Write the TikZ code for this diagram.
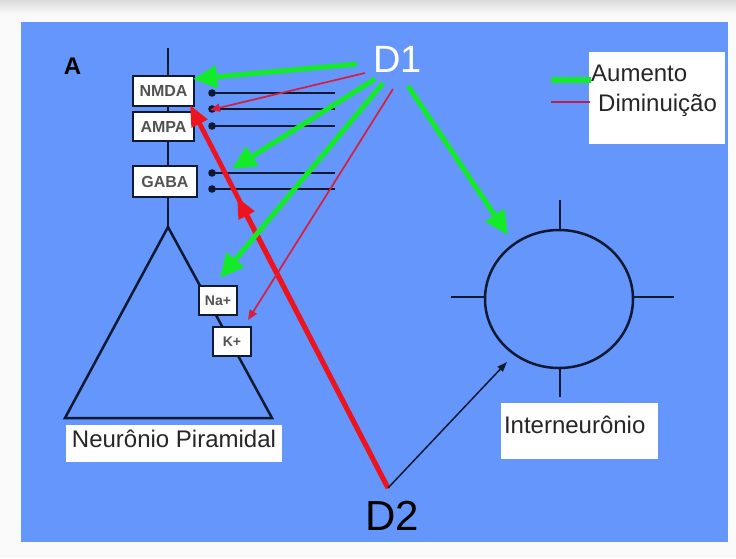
\documentclass[tikz,border=0pt]{standalone}
\usepackage{fontspec}
\setmainfont{Liberation Sans}
\usetikzlibrary{arrows.meta}
\definecolor{bgblue}{RGB}{100,150,252}
\definecolor{agreen}{RGB}{20,235,40}
\definecolor{ared}{RGB}{238,20,30}
\definecolor{thinred}{RGB}{215,30,60}
\definecolor{legred}{RGB}{190,30,75}
\definecolor{ink}{RGB}{15,25,50}
\definecolor{page}{RGB}{250,250,250}
\begin{document}
\begin{tikzpicture}[x=1pt,y=-1pt,
  chan/.style={draw=ink, line width=2.6pt, fill=white, inner sep=0pt,
    font=\fontsize{16}{16}\selectfont\bfseries, text=black!68},
  label/.style={fill=white, inner sep=0pt, font=\fontsize{24}{24}\selectfont, text=black!85},
  neur/.style={draw=ink, line width=2.5pt},
  syn/.style={draw=ink, line width=2.5pt},
  greenarrow/.style={draw=agreen, line width=5pt, -{Triangle[length=24pt,width=22pt]}},
  thinarrow/.style={draw=thinred, line width=1.7pt, -{Triangle[length=10pt,width=8pt]}},
  thickarrow/.style={draw=ared, line width=4.8pt, -{Triangle[length=21pt,width=17pt]}},
  blackarrow/.style={draw=ink, line width=1.5pt, -{Triangle[length=10pt,width=7pt]}},
  dotend/.style={fill=ink, draw=none}
]
\useasboundingbox (0,0) rectangle (736,558);
\fill[page] (0,0) rectangle (736,558);
\shade[top color=black!14, bottom color=page] (0,0) rectangle (736,14);
\fill[bgblue] (21,22) rectangle (728,542);

% dendrite and soma
\draw[neur] (168,48) -- (168,227);
\draw[neur] (168,227) -- (65,418) -- (272,418) -- cycle;

% synaptic terminals
\foreach \yy in {93,109,126,173,189} {
  \draw[syn] (212,\yy) -- (335,\yy);
  \fill[dotend] (212,\yy) circle (3.8);
}

% channel boxes
\node[chan, minimum width=61pt, minimum height=30pt] (nmda) at (163.5,91) {NMDA};
\node[chan, minimum width=61pt, minimum height=29pt] (ampa) at (163.5,126.5) {AMPA};
\node[chan, minimum width=64pt, minimum height=31pt] (gaba) at (165,181.5) {GABA};
\node[chan, minimum width=38pt, minimum height=29pt, font=\fontsize{14}{14}\selectfont\bfseries] (na) at (218,300.5) {Na+};
\node[chan, minimum width=38pt, minimum height=29pt, font=\fontsize{14}{14}\selectfont\bfseries] (k) at (232,341.5) {K+};

% interneuron
\draw[neur] (559,299) ellipse [x radius=74, y radius=69];
\draw[neur] (560,200) -- (560,230);
\draw[neur] (560,368) -- (560,397);
\draw[neur] (451,297) -- (485,297);
\draw[neur] (633,297) -- (674,297);
\coordinate (circtop) at (508,235);
\coordinate (circbot) at (507,362);

% labels
\node[label, minimum width=216pt, minimum height=37pt, text height=17pt, text depth=10pt] (pyrlabel) at (174,443.5) {Neurônio Piramidal};
\node[label, minimum height=56pt, text width=151pt, inner xsep=3pt, align=left, text height=17pt, text depth=13pt] (interlabel) at (579.5,431) {Interneurônio};

\node[anchor=base, inner sep=0pt, font=\fontsize{24}{24}\selectfont\bfseries] (A) at (72.5,74) {A};
\node[anchor=base, font=\fontsize{38}{38}\selectfont, text=white, inner sep=0pt] (D1) at (397.5,72) {D1};
\node[anchor=base, font=\fontsize{42}{42}\selectfont, text=black, inner sep=0pt] (D2) at (392,530) {D2};

% legend
\fill[white] (589,52) rectangle (725,144);
\node[anchor=base west, inner sep=0pt, font=\fontsize{24}{24}\selectfont, text=black!85] (aum) at (591,81) {Aumento};
\node[anchor=base west, inner sep=0pt, font=\fontsize{24}{24}\selectfont, text=black!85] (dim) at (598,111) {Diminuição};
\coordinate (lg1) at (551,80);
\coordinate (lr1) at (551,102);
\coordinate (lr2) at (590,102);
\draw[agreen, line width=5.5pt] (lg1) -- (aum.west |- lg1);
\draw[legred, line width=2.5pt] (lr1) -- (lr2);

% D1 arrow origins and targets
\coordinate (s1) at (357,64);
\coordinate (s2) at (365,73);
\coordinate (s3) at (375,79);
\coordinate (s4) at (383,83);
\coordinate (s5) at (393,89);
\coordinate (s6) at (408,86);
\coordinate (t1) at (193,79);
\coordinate (t2) at (210,110);
\coordinate (t3) at (232,169);
\coordinate (t4) at (220,278);
\coordinate (t5) at (248,320);
\coordinate (d2p) at (388,488);
\coordinate (t7) at (190,105);
\coordinate (t8) at (237,197);

\draw[thickarrow] (d2p) -- (t8);
\draw[thickarrow] (d2p) -- (t7);
\draw[blackarrow] (d2p) -- (circbot);

\draw[greenarrow] (s1) -- (t1);
\draw[thinarrow] (s2) -- (t2);
\draw[greenarrow] (s3) -- (t3);
\draw[greenarrow] (s4) -- (t4);
\draw[thinarrow] (s5) -- (t5);
\draw[greenarrow] (s6) -- (circtop);
\end{tikzpicture}
\end{document}
